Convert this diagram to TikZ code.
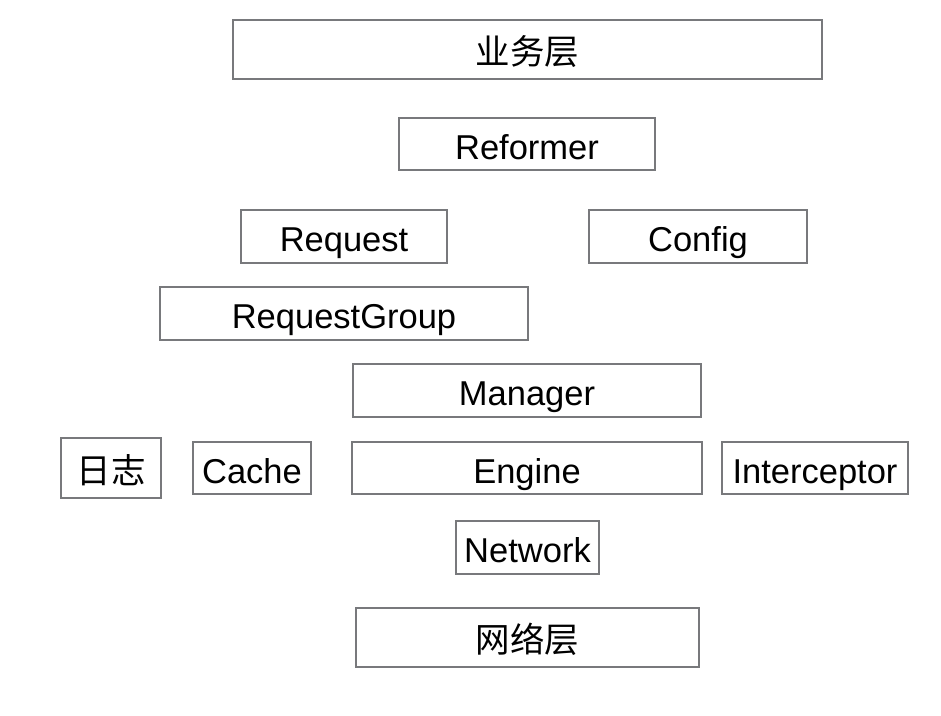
\documentclass[tikz,border=0pt]{standalone}
\usepackage{fontspec}
\setmainfont{Liberation Sans}
\newfontfamily\cjk{Noto Sans CJK SC}
\begin{document}
\begin{tikzpicture}[x=1pt,y=-1pt,
  box/.style={draw={rgb,255:red,120;green,121;blue,124}, line width=1.8pt, inner sep=0pt,
    text height=30pt, text depth=0pt,
    font=\fontsize{34.5}{38}\selectfont, text=black}]
\useasboundingbox[fill=white] (0,0) rectangle (941,715);
\node[box, minimum width=589pt, minimum height=59pt] (biz) at (527.5,49.5) {\cjk 业务层};
\node[box, minimum width=256pt, minimum height=52pt] (reformer) at (527,144) {Reformer};
\node[box, minimum width=206pt, minimum height=53pt] (request) at (344,236.5) {Request};
\node[box, minimum width=218pt, minimum height=53pt] (config) at (698,236.5) {Config};
\node[box, minimum width=368pt, minimum height=53pt] (group) at (344,313.5) {RequestGroup};
\node[box, minimum width=348pt, minimum height=53pt] (manager) at (527,390.5) {Manager};
\node[box, minimum width=100pt, minimum height=60pt] (log) at (111,468) {\cjk 日志};
\node[box, minimum width=118pt, minimum height=52pt] (cache) at (252,468) {Cache};
\node[box, minimum width=350pt, minimum height=52pt] (engine) at (527,468) {Engine};
\node[box, minimum width=186pt, minimum height=52pt] (interceptor) at (815,468) {Interceptor};
\node[box, minimum width=143pt, minimum height=53pt] (network) at (527.5,547.5) {Network};
\node[box, minimum width=343pt, minimum height=59pt] (netlayer) at (527.5,637.5) {\cjk 网络层};
\end{tikzpicture}
\end{document}
